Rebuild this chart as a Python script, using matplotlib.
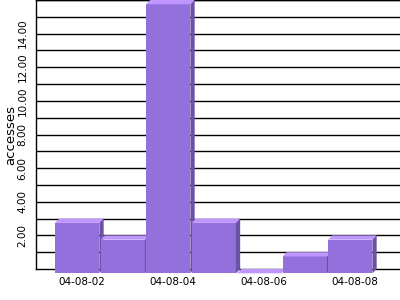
import matplotlib
matplotlib.use("Agg")
import matplotlib.pyplot as plt
from matplotlib.patches import Polygon

dates = ["04-08-02", "04-08-03", "04-08-04", "04-08-05", "04-08-06", "04-08-07", "04-08-08"]
accesses = [3, 2, 16, 3, 0, 1, 2]
ytick_vals = [2, 4, 6, 8, 10, 12, 14]
ylabel = "accesses"

front_c = "#9370db"
top_c = "#bf96ff"
side_c = "#6c52a6"

fig = plt.figure(figsize=(4, 3), dpi=100)
ax = fig.add_axes([36/400, 31/300, 364/400, 269/300])
ax.set_xlim(-1, 7)
ax.set_ylim(0, 16)

# 3D offset in pixels converted to data units
px_x = 364 / 8.0
px_y = 269 / 16.0
ddx = 4.3 / px_x
ddy = 4.3 / px_y
w = 0.975

for i, v in enumerate(accesses):
    l = i - w/2 - ddx
    r = i + w/2 - ddx
    b = -ddy
    t = v - ddy
    ax.bar(i - ddx, v, width=w, bottom=-ddy, color=front_c, linewidth=0, zorder=3, clip_on=False)
    top = Polygon([(l, t), (l + ddx, v), (r + ddx, v), (r, t)], closed=True,
                  facecolor=top_c, edgecolor="none", zorder=3, clip_on=False)
    side = Polygon([(r, b), (r, t), (r + ddx, v), (r + ddx, 0)], closed=True,
                   facecolor=side_c, edgecolor="none", zorder=3, clip_on=False)
    ax.add_patch(top)
    ax.add_patch(side)

ax.set_yticks(range(1, 17), minor=True)
ax.set_yticks(ytick_vals)
ax.set_yticklabels([f"{v:.2f}" for v in ytick_vals], rotation=90, va="center", ha="right", fontsize=7.5)
ax.grid(axis="y", which="both", color="black", linewidth=1.0, zorder=1)
ax.set_axisbelow(True)
ax.tick_params(axis="y", which="both", length=0, pad=6)
ax.set_xticks([0, 2, 4, 6])
ax.set_xticklabels([dates[i] for i in [0, 2, 4, 6]], fontsize=7.5)
ax.tick_params(axis="x", length=0, pad=5.5)
ax.set_ylabel(ylabel, fontsize=9.5, va="center")
ax.yaxis.set_label_coords((11 - 36) / 364, (269 - 135) / 269)
for s in ["right"]:
    ax.spines[s].set_visible(False)
for s in ["left", "bottom", "top"]:
    ax.spines[s].set_linewidth(1.0)
    ax.spines[s].set_color("black")
ax.spines["bottom"].set_zorder(2)

fig.savefig("out.png", dpi=100)
